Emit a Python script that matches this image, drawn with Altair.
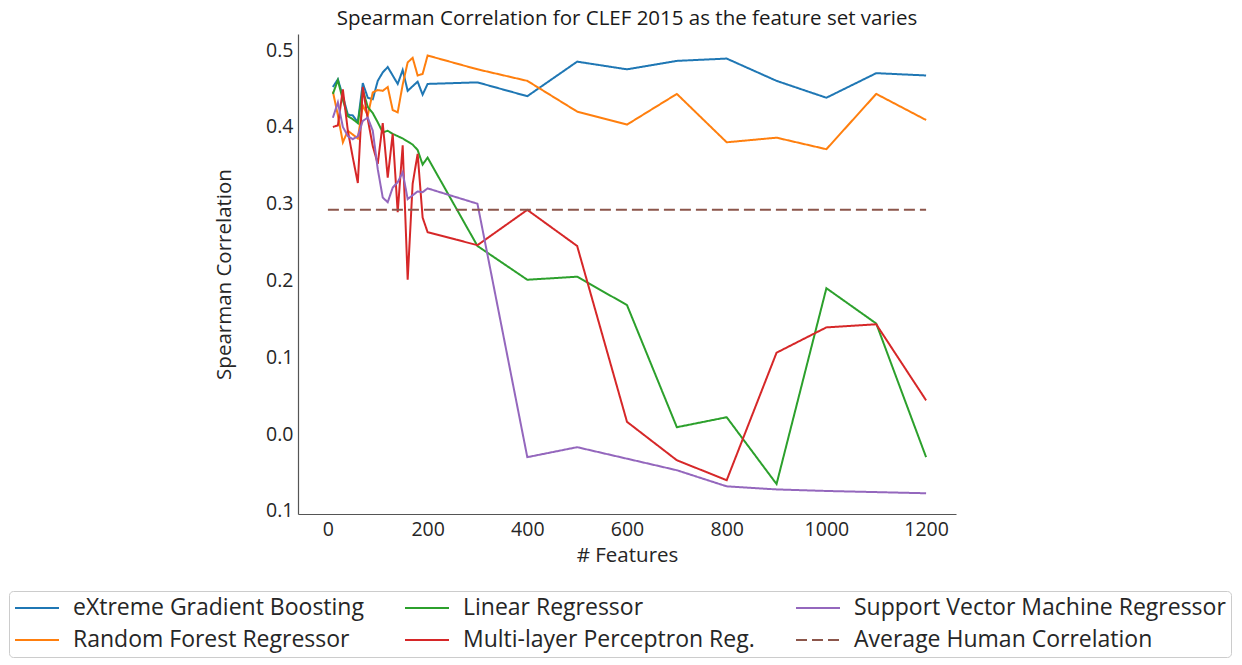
import altair as alt
import pandas as pd

features = [10, 20, 30, 40, 50, 60, 70, 80, 90, 100, 110, 120, 130, 140, 150,
            160, 170, 180, 190, 200, 300, 400, 500, 600, 700, 800, 900, 1000, 1100, 1200]

xgb = [0.452, 0.462, 0.440, 0.416, 0.415, 0.406, 0.457, 0.438, 0.436, 0.460,
       0.471, 0.478, 0.467, 0.456, 0.474, 0.447, 0.453, 0.459, 0.442, 0.456,
       0.458, 0.440, 0.485, 0.475, 0.486, 0.489, 0.460, 0.438, 0.470, 0.467]
rf = [0.446, 0.415, 0.380, 0.395, 0.390, 0.385, 0.428, 0.415, 0.445, 0.448,
      0.447, 0.452, 0.422, 0.419, 0.455, 0.484, 0.490, 0.467, 0.469, 0.493,
      0.475, 0.460, 0.420, 0.403, 0.443, 0.380, 0.386, 0.371, 0.443, 0.409]
lr = [0.443, 0.461, 0.435, 0.414, 0.410, 0.405, 0.448, 0.426, 0.418, 0.406,
      0.393, 0.395, 0.391, 0.388, 0.385, 0.381, 0.377, 0.370, 0.351, 0.360,
      0.245, 0.201, 0.205, 0.168, 0.009, 0.022, -0.065, 0.190, 0.144, -0.030]
mlp = [0.400, 0.402, 0.449, 0.395, 0.360, 0.327, 0.452, 0.410, 0.375, 0.352,
       0.405, 0.334, 0.391, 0.289, 0.376, 0.201, 0.326, 0.365, 0.282, 0.263,
       0.246, 0.292, 0.245, 0.016, -0.034, -0.060, 0.106, 0.139, 0.143, 0.044]
svm = [0.412, 0.432, 0.400, 0.388, 0.384, 0.388, 0.408, 0.412, 0.395, 0.345,
       0.308, 0.302, 0.321, 0.328, 0.341, 0.306, 0.311, 0.316, 0.315, 0.320,
       0.300, -0.030, -0.017, -0.032, -0.047, -0.068, -0.072, -0.074, -0.0755, -0.077]
human_x = [0, 1200]
human_y = [0.292, 0.292]

names = ["eXtreme Gradient Boosting", "Random Forest Regressor", "Linear Regressor",
         "Multi-layer Perceptron Reg.", "Support Vector Machine Regressor",
         "Average Human Correlation"]
color_list = ["#1f77b4", "#ff7f0e", "#2ca02c", "#d62728", "#9467bd", "#8c564b"]
y_ticks = [-0.1, 0.0, 0.1, 0.2, 0.3, 0.4, 0.5]
x_ticks = [0, 200, 400, 600, 800, 1000, 1200]

rows = []
for name, vals in zip(names[:5], [xgb, rf, lr, mlp, svm]):
    for f, v in zip(features, vals):
        rows.append({"model": name, "features": f, "corr": v})
for f, v in zip(human_x, human_y):
    rows.append({"model": names[5], "features": f, "corr": v})
df = pd.DataFrame(rows)

dash_range = [[1, 0]] * 5 + [[11, 5]]
width_range = [2] * 5 + [3.4]

font = "Open Sans"
leg_common = dict(title=None, orient="none", legendX=-289, legendY=557, columns=3,
                  direction="vertical")
chart = alt.Chart(df).mark_line(strokeCap="butt").encode(
    x=alt.X("features:Q", title="# Features",
            scale=alt.Scale(domain=[-60, 1260], nice=False, zero=False),
            axis=alt.Axis(values=x_ticks, format="d", ticks=False, grid=False, labelPadding=6,
                          titlePadding=7, labelFlush=False)),
    y=alt.Y("corr:Q", title="Spearman Correlation",
            scale=alt.Scale(domain=[-0.104, 0.521], nice=False, zero=False),
            axis=alt.Axis(values=y_ticks, ticks=False, grid=False, labelPadding=5,
                          titlePadding=31, labelFlush=False,
                          labelExpr="format(abs(datum.value), '.1f')")),
    color=alt.Color("model:N", sort=names,
                    scale=alt.Scale(domain=names, range=color_list),
                    legend=alt.Legend(**leg_common, symbolType="M-1,0H3", symbolSize=484,
                                      labelFontSize=23, labelOffset=35, labelLimit=600,
                                      rowPadding=8, columnPadding=37, padding=5,
                                      strokeColor="#cccccc", cornerRadius=4, fillColor="white",
                                      labelColor="#262626", labelFont=font)),
    strokeDash=alt.StrokeDash("model:N", sort=names,
                              scale=alt.Scale(domain=names, range=dash_range),
                              legend=alt.Legend(**leg_common)),
    strokeWidth=alt.StrokeWidth("model:N", sort=names,
                                scale=alt.Scale(domain=names, range=width_range),
                                legend=alt.Legend(**leg_common)),
).properties(
    width=658, height=480,
    title=alt.Title("Spearman Correlation for CLEF 2015 as the feature set varies",
                    fontSize=20.5, fontWeight="normal", font=font, color="#1a1a1a", offset=5),
    padding={"left": 0, "top": 0, "right": 0, "bottom": 0},
).configure_view(stroke=None).configure_axis(
    labelFont=font, titleFont=font, labelFontSize=19.5, titleFontSize=20.5,
    labelColor="#262626", titleColor="#262626", titleFontWeight="normal",
    domainColor="#555555", domainWidth=1.2,
)

chart.save("out.html", embed_options={"renderer": "svg", "actions": False})
